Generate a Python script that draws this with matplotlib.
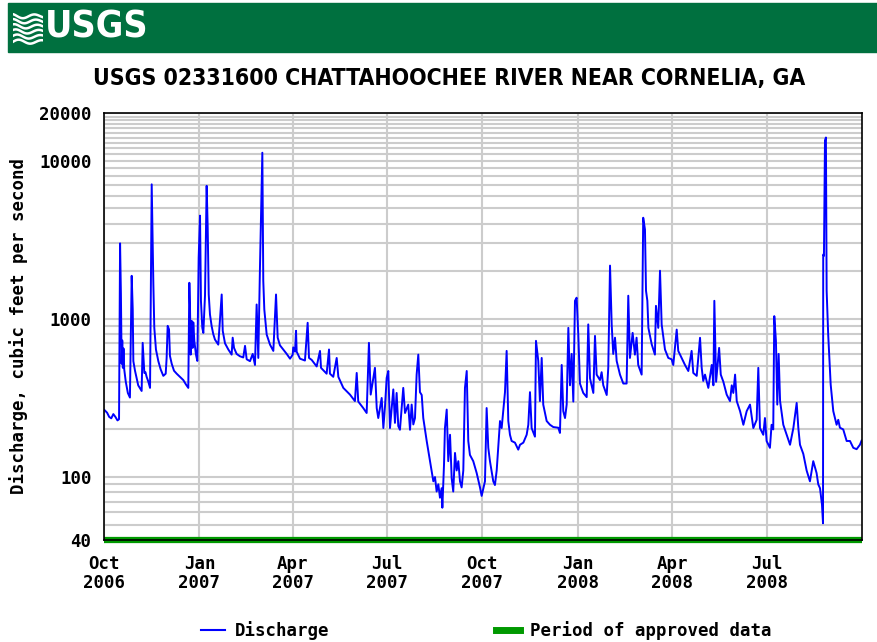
import matplotlib
matplotlib.use("Agg")
import matplotlib.pyplot as plt
import matplotlib.patches as mpatches
from matplotlib import font_manager as fm
from matplotlib.lines import Line2D
import numpy as np
import pandas as pd

# discharge: days after 2006-10-01, cubic feet per second
day_offset = [
    0.5, 3, 5, 7, 9, 11, 13, 14.5, 15.5, 16.3, 17, 17.6, 18.2, 18.8, 19.5, 21, 23, 25,
    26.7, 27.7, 28.3, 29.9, 31.5, 33, 36.3, 37.3, 38.9, 40, 41.1, 42.8, 44.4,
    46, 47.6, 48.5, 50.1, 52.4, 54.6, 57.2, 59.5, 60.4, 61.4, 62.7, 63.6, 65.3, 67.5,
    70.1, 73.3, 76.5, 79, 81.3, 82.3, 82.9, 83.6, 84.6, 85.5, 86.1, 87.1, 88.7, 90,
    91.3, 92.6, 93.5, 94.8, 95.8, 97.4, 99, 100, 101, 102.2, 103.8, 105.4, 107, 110.2,
    113.5, 114.5, 116.7, 119.9, 123.1, 124.1, 125.4, 127.9, 131.1, 134.3, 136, 137.6,
    140.8, 143.4, 145.6, 147.2, 148.8, 150.4, 152.7, 153.6, 154.6, 156.9, 160.1, 163.3,
    165.9, 167.5, 169.7, 172.9, 176.2, 179.4, 182, 182.5, 184.2, 185.2, 185.8, 189,
    193.8, 196.4, 197.7, 200.3, 205.1, 208.3, 209.3, 214.7, 217, 217.9, 221.1, 224.4,
    226, 230.8, 237.2, 242, 243.7, 245.2, 250, 253.3, 255.5, 257.2, 261.3, 263, 264.5,
    267.8, 269.4, 271, 272.6, 274.2, 275.8, 279, 280.6, 282.2, 283.8, 285.4, 288.6,
    290.3, 293.4, 295.1, 296.7, 298.3, 299.9, 301.5, 303.1, 304.7, 306.4, 307.9, 311.2,
    314.4, 317.6, 319.2, 320.8, 322.4, 324, 325.6, 326.3, 327.9, 328.8, 330.5, 332,
    333.7, 335.3, 336.8, 338.5, 340.1, 341.7, 343.3, 344.9, 346.5, 348.1, 349.8, 351.3,
    352.9, 356.1, 359.4, 362.6, 364.2, 367.4, 369, 370.6, 372.2, 375.4, 377, 378.7,
    381.9, 383.5, 386.7, 388.3, 389.9, 391.5, 393.1, 396.3, 399.5, 401.2, 404.4, 407.6,
    409.2, 410.8, 412.4, 415.6, 416.6, 418.8, 420.4, 422.1, 423.6, 426.9, 430.1, 433.3,
    438.1, 439.7, 441.4, 442.9, 444.6, 446.2, 447.8, 449.4, 451, 452.6, 454.2, 455.8,
    457.4, 459, 462.2, 465.5, 467, 468.7, 471.9, 473.5, 475.1, 478.3, 479.9, 481.5,
    484.8, 486.3, 488, 489.6, 491.1, 492.8, 494.4, 497.6, 500.8, 504, 505.6, 507.2,
    509.8, 512, 513.6, 515.2, 518.5, 520, 521.7, 522.7, 524, 525, 528.2, 531.3, 532.3,
    534.5, 536.2, 537.8, 541, 544.2, 547.4, 549, 552.3, 553.8, 557.1, 560.3, 563.5,
    566.7, 568.3, 571.6, 574.8, 576.4, 577.9, 579.6, 582.8, 586.1, 587.7, 588.6, 590.3,
    593.2, 594.8, 597.3, 600.5, 603.7, 605.4, 606.9, 608.6, 610.2, 613.4, 616.6, 619.8,
    623, 626.2, 629.4, 631, 632.6, 635.8, 637.4, 639, 642.2, 643.8, 645.4, 646.4, 648,
    649.3, 650.6, 652, 653.6, 655.1, 658.4, 661.6, 664.8, 668, 669.6, 671.2, 674.4,
    677.6, 680.8, 684, 687.2, 688.8, 690.5, 692.4, 693.4, 693.6, 694.3, 695.3, 696.2,
    696.9, 698.4, 700.8, 703.3, 706.5, 708.1, 709.7, 712.9, 716.2, 719.4, 722.6, 725.8,
    729, 730.6,
]
discharge = [
    265, 255, 240, 235, 250, 240, 228, 232, 3000, 1450, 520, 730, 490, 650, 480, 400, 340, 318,
    1870, 1150, 540, 470, 420, 380, 350, 705, 455, 460, 430, 400, 366,
    7080, 1650, 880, 640, 540, 480, 436, 450, 566, 903, 858, 583, 520, 470,
    450, 430, 410, 385, 366, 1690, 1230, 594, 970, 655, 950, 726, 594, 542,
    2430, 4490, 1300, 877, 815, 1400, 6930, 3770, 1425, 1065, 900, 800, 740, 687,
    1425, 840, 700, 640, 594, 760, 655, 600, 580, 570, 675, 555,
    540, 600, 511, 1232, 566, 2100, 11220, 1740, 1146, 795, 687, 627,
    1425, 760, 680, 640, 600, 560, 594, 660, 620, 840, 620, 560,
    545, 944, 566, 550, 500, 627, 490, 450, 640, 450, 430, 566,
    430, 366, 332, 302, 455, 300, 273, 254, 705, 332, 490, 273, 236,
    316, 204, 280, 423, 468, 204, 358, 220, 340, 210, 199, 366,
    254, 287, 199, 287, 215, 236, 444, 594, 344, 330, 236, 169,
    126, 94, 100, 81, 90, 74, 85, 64, 120, 204, 267, 126,
    185, 98, 81, 142, 110, 126, 94, 86, 110, 366, 468, 169,
    138, 126, 106, 86, 76, 94, 273, 153, 126, 94, 89, 110,
    226, 204, 344, 627, 226, 185, 169, 165, 149, 160, 165, 185,
    214, 344, 204, 180, 726, 542, 302, 566, 287, 226, 214, 207,
    205, 190, 511, 261, 236, 287, 877, 380, 600, 300, 1300, 1360,
    795, 390, 340, 320, 922, 420, 340, 780, 444, 410, 460, 380,
    330, 490, 2170, 922, 600, 760, 542, 444, 390, 390, 1400, 566,
    815, 594, 760, 511, 444, 4355, 3670, 1505, 1300, 877, 690, 594, 1208,
    877, 2014, 922, 640, 566, 555, 511, 855, 627, 566, 511, 468,
    627, 455, 436, 759, 490, 405, 444, 366, 511, 380, 1300, 400,
    655, 444, 400, 332, 302, 380, 340, 444, 302, 261, 214, 261,
    287, 204, 230, 490, 204, 185, 236, 169, 153, 214, 200, 1040, 726,
    287, 600, 302, 254, 214, 185, 160, 204, 294, 204, 160, 140,
    110, 94, 126, 106, 90, 85, 67, 51, 2550, 2500, 13400, 14000,
    1505, 795, 384, 261, 214, 230, 205, 200, 169, 169, 153, 150,
    160, 170,
]

record_start = "2006-10-01"
record_end = "2008-10-01"
approved_start = "2006-10-01"
approved_end = "2008-10-01"

month_ticks = ["2006-10-01", "2007-01-01", "2007-04-01", "2007-07-01",
               "2007-10-01", "2008-01-01", "2008-04-01", "2008-07-01"]
month_labels = ["Oct\n2006", "Jan\n2007", "Apr\n2007", "Jul\n2007",
                "Oct\n2007", "Jan\n2008", "Apr\n2008", "Jul\n2008"]
y_ticks = [40, 100, 1000, 10000, 20000]
y_labels = ["40", "100", "1000", "10000", "20000"]

title = "USGS 02331600 CHATTAHOOCHEE RIVER NEAR CORNELIA, GA"
ylabel = "Discharge, cubic feet per second"

mono = "DejaVu Sans Mono"

# pick a narrow bold face for the title if one is installed
installed = fm.fontManager.ttflist
narrow_kw = None
for f in installed:
    if f.name == "Liberation Sans Narrow":
        narrow_kw = dict(family="Liberation Sans Narrow", fontstretch="normal")
        title_size, logo_size = 19, 30
        break
if narrow_kw is None:
    for f in installed:
        if f.name == "DejaVu Sans" and f.stretch == "condensed":
            narrow_kw = dict(family="DejaVu Sans", fontstretch="condensed")
            title_size, logo_size = 16.5, 27
            break
if narrow_kw is None:
    narrow_kw = dict(family="Liberation Sans", fontstretch="normal")
    title_size, logo_size = 16, 26

dates = pd.Timestamp(record_start) + pd.to_timedelta(np.array(day_offset), unit="D")

fig = plt.figure(figsize=(8.77, 6.42), dpi=100)

# green banner with the USGS mark
fig.patches.append(mpatches.Rectangle((8 / 877, 1 - 52 / 642), 1, 49 / 642,
                                      transform=fig.transFigure, color="#00703F", zorder=-2))
logo = fig.add_axes([13 / 877, 1 - 45 / 642, 30 / 877, 32 / 642], zorder=2)
logo.set_xlim(0, 1)
logo.set_ylim(0, 1)
logo.axis("off")
t = np.linspace(0, 1, 60)
for k in range(6):
    logo.plot(t, 0.1 + k * 0.16 + 0.07 * np.sin(t * 2 * np.pi * 1.3 + k * 0.4) * (1 - t * 0.3),
              color="white", lw=1.8)
fig.text(45 / 877, 1 - 28 / 642, "USGS", color="white", fontsize=logo_size,
         fontweight="bold", ha="left", va="center", zorder=3, **narrow_kw)

fig.text(449 / 877, 1 - 78 / 642, title, fontsize=title_size, fontweight="bold",
         ha="center", va="center", **narrow_kw)

ax = fig.add_axes([104 / 877, 1 - 540 / 642, 758 / 877, 427 / 642])
ax.set_yscale("log")
ax.set_ylim(40, 20000)
ax.set_xlim(pd.Timestamp(record_start), pd.Timestamp(record_end))

# horizontal log grid
grid_y = np.concatenate([np.arange(50, 100, 10), np.arange(100, 1000, 100),
                         np.arange(1000, 10000, 1000), np.arange(10000, 20001, 1000)])
for gy in grid_y:
    ax.axhline(gy, color="#cccccc", lw=1.5, zorder=1)
for mt in month_ticks:
    ax.axvline(pd.Timestamp(mt), color="#cccccc", lw=1.5, zorder=1)

ax.plot(dates, discharge, color="#0000ff", lw=1.4, zorder=3)
ax.plot([pd.Timestamp(approved_start), pd.Timestamp(approved_end)], [40, 40],
        color="#009900", lw=4.5, solid_capstyle="butt", clip_on=False, zorder=4)

ax.set_yticks(y_ticks)
ax.set_yticklabels(y_labels)
ax.yaxis.set_minor_locator(matplotlib.ticker.NullLocator())
ax.set_xticks([pd.Timestamp(m) for m in month_ticks])
ax.set_xticklabels(month_labels, linespacing=1.1)
ax.tick_params(length=0)
ax.tick_params(axis="x", pad=10.5)
ax.tick_params(axis="y", pad=9)
for lab in ax.get_xticklabels() + ax.get_yticklabels():
    lab.set_family(mono)
    lab.set_fontweight("bold")
    lab.set_fontsize(12.5)
ax.set_ylabel(ylabel, family=mono, fontweight="bold", fontsize=12.5, labelpad=8)
for s in ax.spines.values():
    s.set_linewidth(1.2)
    s.set_color("black")
    s.set_zorder(5)

handles = [Line2D([], [], color="#0000ff", lw=1.5),
           Line2D([], [], color="#009900", lw=5)]
fig.legend(handles, ["Discharge", "Period of approved data"], loc="center",
           bbox_to_anchor=(486 / 877, 1 - 631 / 642), ncol=2, frameon=False,
           handlelength=1.4, handletextpad=0.55, columnspacing=9.6,
           prop={"family": mono, "weight": "bold", "size": 12.5})

fig.savefig("out.png", dpi=100)
